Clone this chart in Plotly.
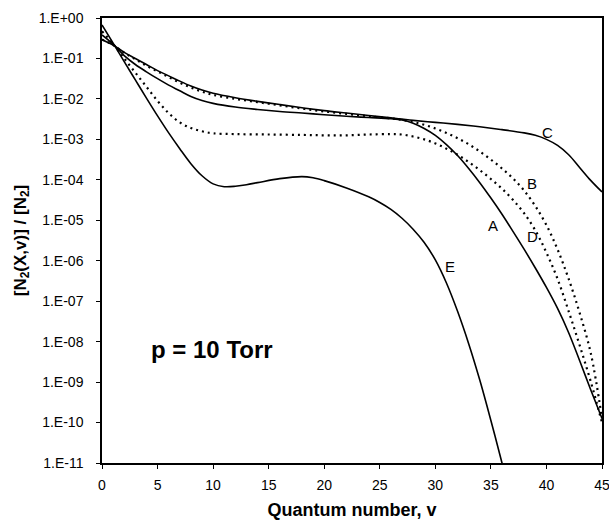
import plotly.graph_objects as go

# Vibrational distribution functions of N2(X, v) at p = 10 Torr
# values are log10 of [N2(X,v)]/[N2] at the listed quantum numbers
v_A = [0, 1, 2, 3, 4, 5, 6, 7, 8, 9, 10, 12, 14, 16, 18, 20, 22, 24, 26, 27, 28, 29, 30, 31, 32, 33, 34, 35, 36, 37, 38, 39, 40, 41, 42, 43, 44, 45]
lg_A = [-0.42, -0.65, -0.93, -1.15, -1.33, -1.5, -1.66, -1.8, -1.94, -2.04, -2.11, -2.2, -2.26, -2.31, -2.35, -2.39, -2.43, -2.46, -2.49, -2.52, -2.6, -2.73, -2.9, -3.13, -3.4, -3.72, -4.07, -4.45, -4.85, -5.28, -5.72, -6.18, -6.66, -7.18, -7.78, -8.48, -9.2, -9.9]

v_B = [0, 1, 2, 3, 4, 5, 6, 7, 8, 9, 10, 12, 14, 16, 18, 20, 22, 24, 26, 27, 28, 29, 30, 31, 32, 33, 34, 35, 36, 37, 38, 39, 40, 41, 42, 43, 44, 45]
lg_B = [-0.53, -0.67, -0.86, -1.02, -1.18, -1.32, -1.46, -1.6, -1.72, -1.82, -1.9, -2.0, -2.08, -2.16, -2.24, -2.31, -2.37, -2.43, -2.48, -2.52, -2.57, -2.64, -2.73, -2.84, -2.97, -3.12, -3.3, -3.5, -3.72, -3.97, -4.27, -4.65, -5.12, -5.72, -6.45, -7.3, -8.3, -9.9]

v_C = [0, 1, 2, 3, 4, 5, 6, 7, 8, 9, 10, 12, 14, 16, 18, 20, 22, 24, 26, 27, 28, 30, 32, 34, 36, 38, 39, 40, 41, 42, 43, 44, 45]
lg_C = [-0.54, -0.67, -0.85, -1.0, -1.15, -1.3, -1.43, -1.56, -1.68, -1.78, -1.86, -1.97, -2.06, -2.14, -2.22, -2.29, -2.35, -2.41, -2.47, -2.5, -2.53, -2.58, -2.63, -2.69, -2.76, -2.84, -2.9, -3.0, -3.15, -3.38, -3.7, -4.02, -4.3]

v_D = [0, 1, 2, 3, 4, 5, 6, 7, 8, 9, 10, 12, 15, 18, 20, 22, 24, 26, 27, 28, 29, 30, 31, 32, 33, 34, 35, 36, 37, 38, 39, 40, 41, 42, 43, 44, 45]
lg_D = [-0.33, -0.64, -1.0, -1.35, -1.7, -2.05, -2.35, -2.58, -2.72, -2.8, -2.85, -2.87, -2.88, -2.89, -2.9, -2.9, -2.88, -2.87, -2.88, -2.93, -3.0, -3.1, -3.23, -3.38, -3.56, -3.76, -3.98, -4.22, -4.5, -4.83, -5.25, -5.8, -6.45, -7.25, -8.1, -9.0, -10.0]

v_E = [0, 1, 2, 3, 4, 5, 6, 7, 8, 9, 10, 11, 12, 13, 14, 16, 18, 19, 20, 22, 24, 25, 26, 27, 28, 29, 30, 31, 32, 33, 34, 35, 36, 36.5]
lg_E = [-0.17, -0.62, -1.08, -1.53, -1.98, -2.42, -2.84, -3.23, -3.6, -3.9, -4.1, -4.17, -4.16, -4.12, -4.07, -3.97, -3.92, -3.95, -4.02, -4.2, -4.42, -4.56, -4.73, -4.95, -5.22, -5.55, -5.98, -6.55, -7.25, -8.05, -8.95, -9.95, -11.0, -11.55]

series = [
    ("A", v_A, lg_A, "solid"),
    ("B", v_B, lg_B, "2px,4px"),
    ("C", v_C, lg_C, "solid"),
    ("D", v_D, lg_D, "2px,4px"),
    ("E", v_E, lg_E, "solid"),
]

# curve label positions (v, log10 value)
label_pos = {"A": (35.2, -5.12), "B": (38.7, -4.08), "C": (40.1, -2.84), "D": (38.7, -5.4), "E": (31.3, -6.15)}

y_tick_exp = list(range(0, -12, -1))
y_tick_text = ["1.E+00"] + ["1.E-%02d" % (-e) for e in y_tick_exp[1:]]
x_ticks = [0, 5, 10, 15, 20, 25, 30, 35, 40, 45]

FONT = "Liberation Sans, Arial"

fig = go.Figure()
for name, vs, lg, dash in series:
    fig.add_trace(go.Scatter(
        x=vs, y=[10 ** g for g in lg], mode="lines", name=name,
        line=dict(color="black", width=1.6 if dash == "solid" else 2.2, dash=dash, shape="spline", smoothing=1.0),
        showlegend=False, cliponaxis=True,
    ))

for name, (lv, lgv) in label_pos.items():
    fig.add_annotation(x=lv, y=lgv, text=name, showarrow=False,
                       font=dict(family=FONT, size=15, color="black"))

fig.add_annotation(x=9.9, y=-8.2, text="<b>p = 10 Torr</b>", showarrow=False,
                   font=dict(family=FONT, size=24, color="black"))

axis_font = dict(family=FONT, size=14, color="black")
fig.update_xaxes(range=[0, 45], tickvals=x_ticks, ticks="outside", ticklen=4, tickcolor="black",
                 showline=True, linecolor="black", linewidth=1.5, mirror=True, showgrid=False,
                 zeroline=False, tickfont=axis_font, automargin=False, ticklabelstandoff=4,
                 ticklabeloverflow="allow",
                 title=dict(text="<b>Quantum number, v</b>", font=dict(family=FONT, size=18, color="black"), standoff=12))
fig.update_yaxes(type="log", range=[-11, 0], tickvals=[10 ** e for e in y_tick_exp], ticktext=y_tick_text,
                 ticks="outside", ticklen=4, tickcolor="black",
                 showline=True, linecolor="black", linewidth=1.5, mirror=True, showgrid=False,
                 zeroline=False, tickfont=axis_font, automargin=False, ticklabelstandoff=10,
                 ticklabeloverflow="allow",
                 title=dict(text="<b>[N<sub>2</sub>(X,v)] / [N<sub>2</sub>]</b>", font=dict(family=FONT, size=17, color="black"), standoff=8))

fig.update_layout(width=609, height=520, margin=dict(l=102, r=7, t=18, b=57),
                  plot_bgcolor="white", paper_bgcolor="white")

fig.write_html("out.html")
